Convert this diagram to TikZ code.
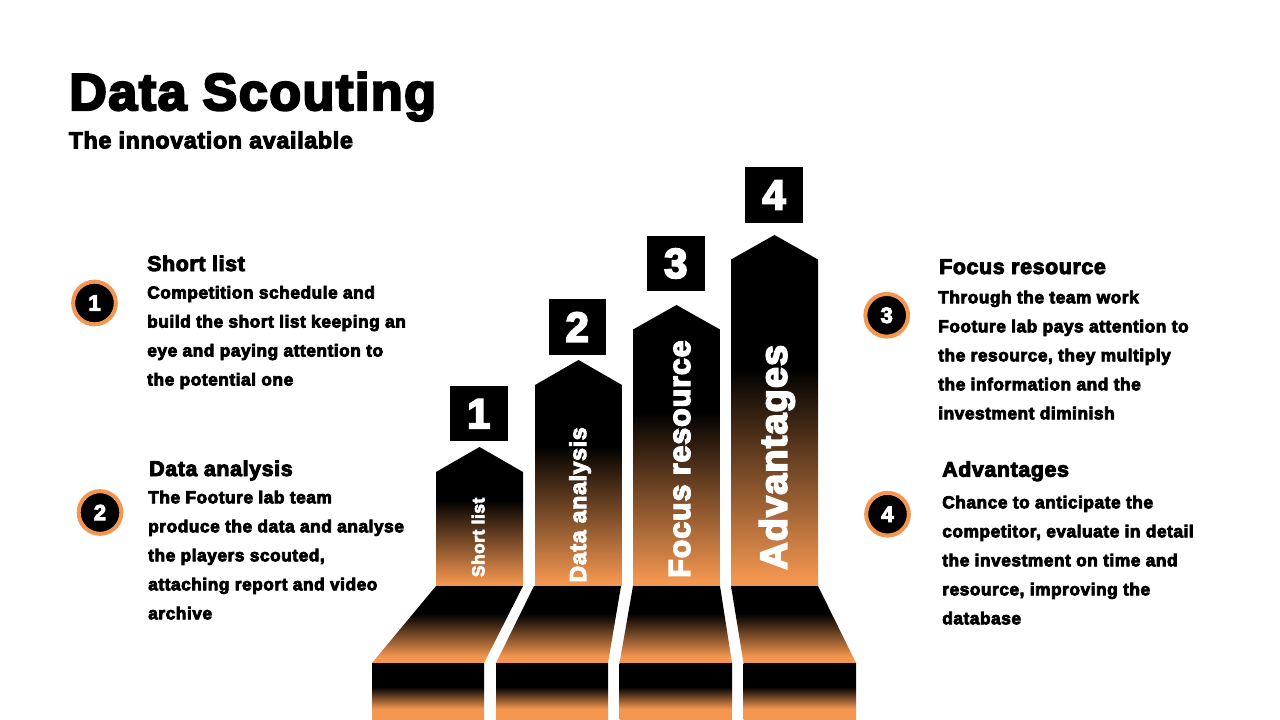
\documentclass[tikz,border=0pt]{standalone}
\usepackage{fontspec}
\setmainfont{Liberation Sans}[BoldFeatures={FakeBold=4.5,LetterSpace=3}]
\definecolor{orng}{RGB}{243,150,80}
\pgfdeclareverticalshading{arrowsh}{100bp}{color(0bp)=(orng); color(26bp)=(orng); color(56bp)=(black); color(100bp)=(black)}
\pgfdeclareverticalshading{trapsh}{100bp}{color(0bp)=(orng); color(29bp)=(orng); color(57bp)=(black); color(100bp)=(black)}
\pgfdeclareverticalshading{rectsh}{100bp}{color(0bp)=(orng); color(35bp)=(orng); color(54bp)=(black); color(100bp)=(black)}
\tikzset{
  arrowbody/.style={shading=arrowsh},
  trapbody/.style={shading=trapsh},
  rectbody/.style={shading=rectsh},
  numbox/.style={fill=black, text=white, font=\bfseries\fontsize{31.4}{31.4}\selectfont, inner sep=0pt, minimum width=43.1pt, minimum height=41.3pt},
  numcirc/.style={circle, fill=black, draw=orng, line width=3pt, text=white, font=\bfseries\fontsize{16.5}{16.5}\selectfont, inner sep=0pt, minimum size=32pt},
  heading/.style={anchor=base west, inner sep=0pt, font=\bfseries\fontsize{16}{16}\selectfont},
  bodytxt/.style={anchor=base west, inner sep=0pt, font=\bfseries\fontsize{13}{21.75}\selectfont},
  vlabel/.style={anchor=base west, inner sep=0pt, rotate=90, text=white}
}
\newcommand{\blines}[1]{\vtop{\baselineskip=21.75pt #1}}
\begin{document}
\begin{tikzpicture}[x=0.75pt,y=-0.75pt]
\useasboundingbox (0,0) rectangle (1280,720);
\fill[white] (0,0) rectangle (1280,720);
% title
\node[anchor=base west, inner sep=0pt, font=\bfseries\fontsize{39}{39}\selectfont] (title) at (69,110) {Data Scouting};
\node[anchor=base west, inner sep=0pt, font=\bfseries\fontsize{17.4}{17.4}\selectfont] (subtitle) at (68.5,148.3) {The innovation available};
% arrows
\shade[arrowbody] (436,586) -- (436,472) -- (479.5,447) -- (523,472) -- (523,586) -- cycle;
\shade[arrowbody] (535,586) -- (535,385) -- (578.5,360) -- (622,385) -- (622,586) -- cycle;
\shade[arrowbody] (633,586) -- (633,329.5) -- (676.5,305) -- (720,329.5) -- (720,586) -- cycle;
\shade[arrowbody] (731,586) -- (731,259.5) -- (774.5,235) -- (818,259.5) -- (818,586) -- cycle;
% trapezoids
\shade[trapbody] (436,586) -- (523,586) -- (484,663) -- (372,663) -- cycle;
\shade[trapbody] (534,586) -- (621,586) -- (608,663) -- (496,663) -- cycle;
\shade[trapbody] (633,586) -- (720,586) -- (732,663) -- (619.5,663) -- cycle;
\shade[trapbody] (731,586) -- (818,586) -- (856,663) -- (743.5,663) -- cycle;
% feet
\shade[rectbody] (372,663) rectangle (484,720);
\shade[rectbody] (496,663) rectangle (608,720);
\shade[rectbody] (619.5,663) rectangle (732,720);
\shade[rectbody] (743.5,663) rectangle (856,720);
% vertical labels
\node[vlabel, font=\bfseries\fontsize{13}{13}\selectfont] (v1) at (484.3,577.3) {Short list};
\node[vlabel, font=\bfseries\fontsize{17.3}{17.3}\selectfont] (v2) at (586,582.7) {Data analysis};
\node[vlabel, font=\bfseries\fontsize{22.8}{22.8}\selectfont] (v3) at (690,578) {Focus resource};
\node[vlabel, font=\bfseries\fontsize{28.4}{28.4}\selectfont] (v4) at (786.7,570) {Advantages};
% number boxes
\node[numbox] (b1) at (478.8,413.8) {1};
\node[numbox] (b2) at (577.3,327) {2};
\node[numbox] (b3) at (675.8,263.5) {3};
\node[numbox] (b4) at (774,195) {4};
% circles
\node[numcirc] (c1) at (94.5,303) {1};
\node[numcirc] (c2) at (100,512.5) {2};
\node[numcirc] (c3) at (886.7,315.3) {3};
\node[numcirc] (c4) at (887.5,514.2) {4};
% text blocks
\node[heading] (h1) at (147,271) {Short list};
\node[bodytxt] (t1) at (147,298.5) {\blines{\hbox{Competition schedule and}\hbox{build the short list keeping an}\hbox{eye and paying attention to}\hbox{the potential one}}};
\node[heading] (h2) at (149,476) {Data analysis};
\node[bodytxt] (t2) at (148,503.3) {\blines{\hbox{The Footure lab team}\hbox{produce the data and analyse}\hbox{the players scouted,}\hbox{attaching report and video}\hbox{archive}}};
\node[heading] (h3) at (939,274) {Focus resource};
\node[bodytxt] (t3) at (938,303.3) {\blines{\hbox{Through the team work}\hbox{Footure lab pays attention to}\hbox{the resource, they multiply}\hbox{the information and the}\hbox{investment diminish}}};
\node[heading] (h4) at (942,476.7) {Advantages};
\node[bodytxt] (t4) at (942,508.3) {\blines{\hbox{Chance to anticipate the}\hbox{competitor, evaluate in detail}\hbox{the investment on time and}\hbox{resource, improving the}\hbox{database}}};
\end{tikzpicture}
\end{document}
